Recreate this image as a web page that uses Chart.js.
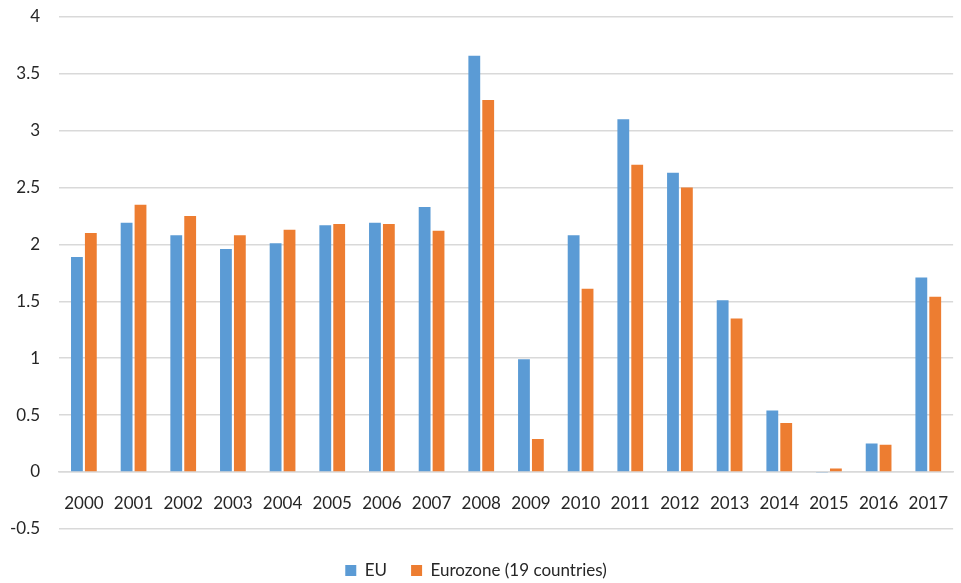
<!DOCTYPE html>
<html>
<head>
<meta charset="utf-8">
<script src="https://cdn.jsdelivr.net/npm/chart.js@4.4.0/dist/chart.umd.min.js"></script>
<style>
  html, body { margin: 0; padding: 0; background: #fff; }
  #wrap { width: 961px; height: 583px; }
</style>
</head>
<body>
<div id="wrap"><canvas id="chart"></canvas></div>
<script>
const years = ["2000", "2001", "2002", "2003", "2004", "2005", "2006", "2007", "2008",
  "2009", "2010", "2011", "2012", "2013", "2014", "2015", "2016", "2017"];
const euValues = [1.89, 2.19, 2.08, 1.96, 2.01, 2.17, 2.19, 2.33, 3.66,
  0.99, 2.08, 3.10, 2.63, 1.51, 0.54, -0.01, 0.25, 1.71];
const eurozoneValues = [2.10, 2.35, 2.25, 2.08, 2.13, 2.18, 2.18, 2.12, 3.27,
  0.29, 1.61, 2.70, 2.50, 1.35, 0.43, 0.03, 0.24, 1.54];
const seriesNames = ["EU", "Eurozone (19 countries)"];

const fontFamily = "Lato, 'Liberation Sans', sans-serif";

new Chart(document.getElementById("chart"), {
  type: "bar",
  data: {
    labels: years,
    datasets: [
      { label: seriesNames[0], data: euValues, backgroundColor: "#5B9BD5" },
      { label: seriesNames[1], data: eurozoneValues, backgroundColor: "#ED7D31" }
    ]
  },
  options: {
    responsive: true,
    maintainAspectRatio: false,
    animation: false,
    layout: { padding: { top: 17, right: 0, left: -9, bottom: -6 } },
    datasets: {
      bar: { categoryPercentage: 0.56, barPercentage: 0.85 }
    },
    plugins: {
      legend: {
        position: "bottom",
        // empty title only adds space above the legend items
        title: { display: true, text: " ", font: { size: 1 }, padding: { top: 4, bottom: 4 } },
        labels: {
          boxWidth: 11, boxHeight: 11, padding: 24,
          color: "#262626",
          font: { family: fontFamily, size: 17 }
        }
      },
      tooltip: { enabled: false }
    },
    scales: {
      x: {
        position: { y: 0 },
        grid: { display: false },
        border: { display: true, color: "#d9d9d9", width: 1.5 },
        ticks: { color: "#262626", padding: 13, font: { family: fontFamily, size: 17 } }
      },
      y: {
        min: -0.5,
        max: 4,
        // top label may overhang the plot, like in the original
        afterFit: scale => { scale.paddingTop = 0; },
        grid: { color: "#d9d9d9", lineWidth: 1.5, drawTicks: false },
        border: { display: false },
        ticks: {
          stepSize: 0.5,
          padding: 19,
          color: "#262626",
          font: { family: fontFamily, size: 17 },
          callback: v => String(v)
        }
      }
    }
  }
});
</script>
</body>
</html>
